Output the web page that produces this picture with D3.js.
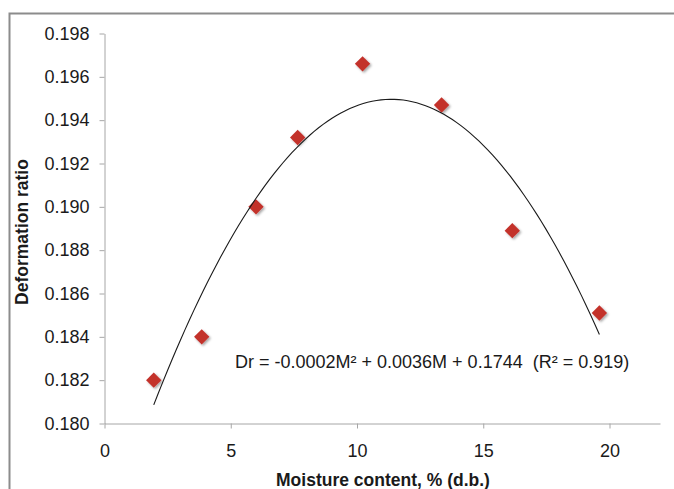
<!DOCTYPE html>
<html>
<head>
<meta charset="utf-8">
<script src="https://cdn.jsdelivr.net/npm/d3@7"></script>
<style>
    body { margin: 0; background: #ffffff; }
    svg { display: block; font-family: Arial, "Liberation Sans", sans-serif; }
</style>
</head>
<body>
<svg id="chart" width="674" height="489"></svg>
<script>
// measured data (moisture content % d.b. vs deformation ratio)
const moisture = [1.95, 3.85, 6.0, 7.65, 10.22, 13.35, 16.15, 19.6];
const ratio = [0.1820, 0.1840, 0.1900, 0.1932, 0.1966, 0.1947, 0.1889, 0.1851];

const xTicks = [0, 5, 10, 15, 20];
const yTicks = [0.180, 0.182, 0.184, 0.186, 0.188, 0.190, 0.192, 0.194, 0.196, 0.198];

const equationLabel = 'Dr = -0.0002M\u00B2 + 0.0036M + 0.1744  (R\u00B2 = 0.919)';

const svg = d3.select('#chart');

// drop shadow for markers
const defs = svg.append('defs');
defs.append('filter')
    .attr('id', 'shadow')
    .attr('x', '-50%').attr('y', '-50%')
    .attr('width', '200%').attr('height', '200%')
    .append('feDropShadow')
    .attr('dx', 1.5).attr('dy', 1.5)
    .attr('stdDeviation', 1.3)
    .attr('flood-color', '#000')
    .attr('flood-opacity', 0.35);

// outer chart frame
svg.append('rect')
    .attr('x', 9.5).attr('y', 13.5)
    .attr('width', 700).attr('height', 500)
    .attr('fill', 'none')
    .attr('stroke', '#8c8c8c')
    .attr('stroke-width', 2);

const x = d3.scaleLinear().domain([0, 22]).range([104.5, 660]);
const y = d3.scaleLinear().domain([0.180, 0.198]).range([423.5, 33.5]);

// axes
const xAxis = d3.axisBottom(x).tickValues(xTicks).tickSize(5).tickSizeOuter(0).tickPadding(16);
const yAxis = d3.axisLeft(y).tickValues(yTicks).tickSize(5).tickSizeOuter(0).tickPadding(10)
    .tickFormat(d3.format('.3f'));

const gx = svg.append('g').attr('transform', 'translate(0,' + y(0.180) + ')').call(xAxis);
const gy = svg.append('g').attr('transform', 'translate(' + x(0) + ',0)').call(yAxis);

[gx, gy].forEach(g => {
    g.select('.domain').attr('stroke', '#a6a6a6');
    g.selectAll('.tick line').attr('stroke', '#a6a6a6');
    g.selectAll('.tick text')
        .attr('fill', '#1a1a1a')
        .style('font-size', '18px')
        .style('font-family', 'Arial, "Liberation Sans", sans-serif');
});

// axis titles
svg.append('text')
    .attr('x', 383).attr('y', 486)
    .attr('text-anchor', 'middle')
    .style('font-size', '17.5px')
    .style('font-weight', 'bold')
    .attr('fill', '#1a1a1a')
    .text('Moisture content, % (d.b.)');

svg.append('text')
    .attr('transform', 'translate(28,232) rotate(-90)')
    .attr('text-anchor', 'middle')
    .style('font-size', '17.5px')
    .style('font-weight', 'bold')
    .attr('fill', '#1a1a1a')
    .text('Deformation ratio');

// second order polynomial trendline by least squares
function polyFit2(xs, ys) {
    let s = [0, 0, 0, 0, 0], t = [0, 0, 0];
    xs.forEach((xi, i) => {
        for (let k = 0; k < 5; k++) s[k] += Math.pow(xi, k);
        for (let k = 0; k < 3; k++) t[k] += ys[i] * Math.pow(xi, k);
    });
    const m = [[s[0], s[1], s[2], t[0]], [s[1], s[2], s[3], t[1]], [s[2], s[3], s[4], t[2]]];
    for (let i = 0; i < 3; i++) {
        for (let j = i + 1; j < 3; j++) {
            const f = m[j][i] / m[i][i];
            for (let k = i; k < 4; k++) m[j][k] -= f * m[i][k];
        }
    }
    const c = [0, 0, 0];
    for (let i = 2; i >= 0; i--) {
        let v = m[i][3];
        for (let k = i + 1; k < 3; k++) v -= m[i][k] * c[k];
        c[i] = v / m[i][i];
    }
    return c;
}

const coef = polyFit2(moisture, ratio);
const xMin = d3.min(moisture), xMax = d3.max(moisture);
const curvePts = d3.range(0, 101).map(i => {
    const mx = xMin + (xMax - xMin) * i / 100;
    return [mx, coef[0] + coef[1] * mx + coef[2] * mx * mx];
});

// markers
const diamond = d3.symbol().type(d3.symbolDiamond2).size(150);
svg.append('g')
    .selectAll('path')
    .data(moisture.map((m, i) => [m, ratio[i]]))
    .join('path')
    .attr('d', diamond)
    .attr('transform', d => 'translate(' + x(d[0]) + ',' + y(d[1]) + ')')
    .attr('fill', '#c3302b')
    .attr('filter', 'url(#shadow)');

svg.append('path')
    .datum(curvePts)
    .attr('d', d3.line().x(d => x(d[0])).y(d => y(d[1])))
    .attr('fill', 'none')
    .attr('stroke', '#1a1a1a')
    .attr('stroke-width', 1.1);

// equation label
svg.append('text')
    .attr('x', 235).attr('y', 368)
    .style('font-size', '18px')
    .style('white-space', 'pre')
    .attr('fill', '#1a1a1a')
    .text(equationLabel);
</script>
</body>
</html>
